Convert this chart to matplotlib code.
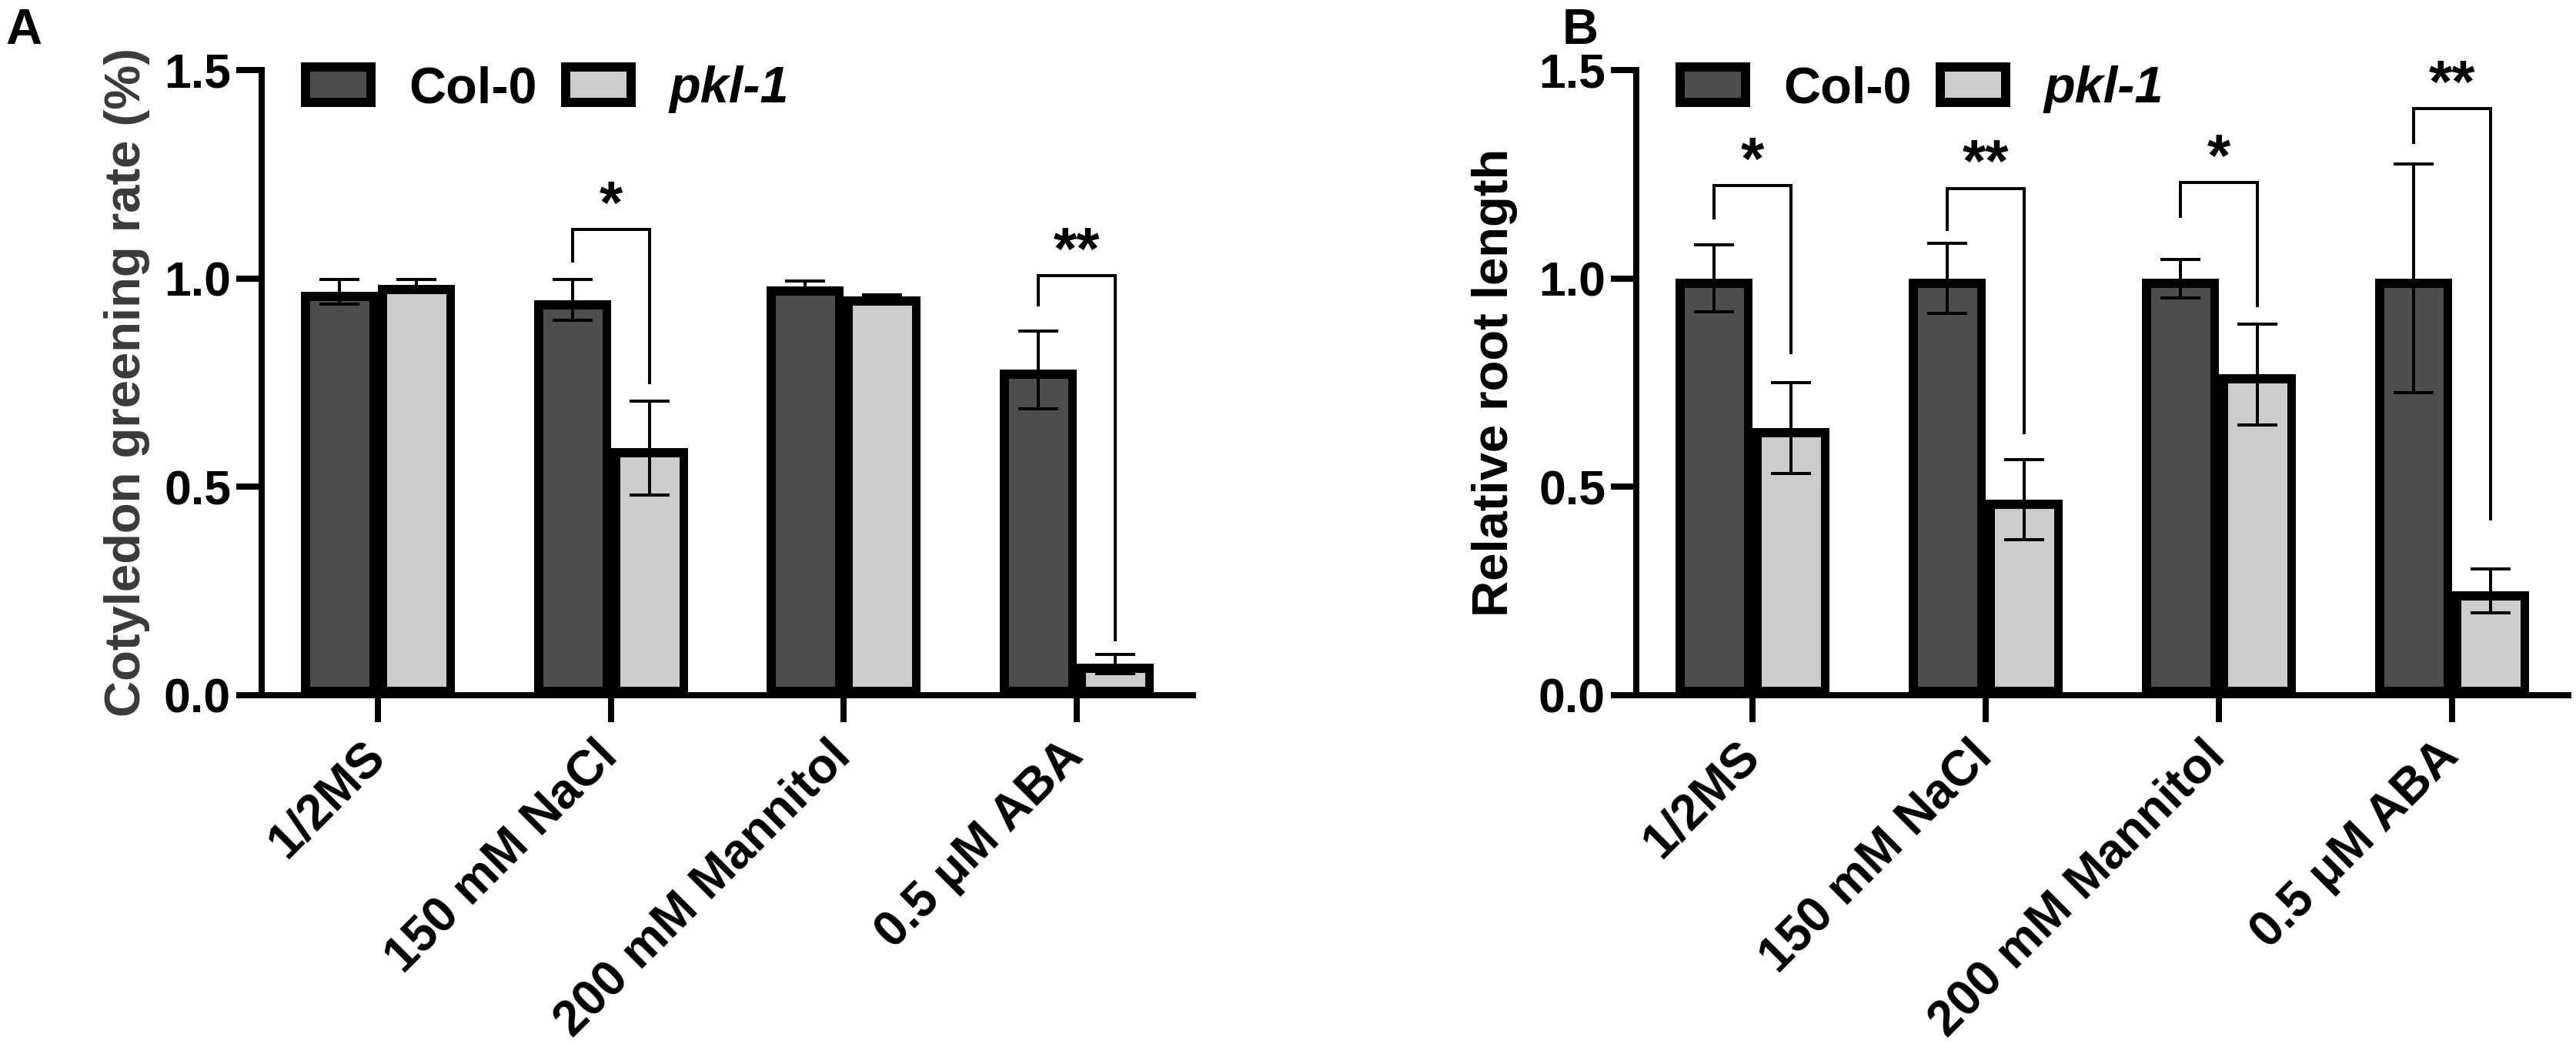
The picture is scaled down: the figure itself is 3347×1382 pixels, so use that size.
import matplotlib
matplotlib.use('Agg')
import matplotlib.pyplot as plt
import numpy as np
from matplotlib.patches import Patch
from matplotlib.transforms import ScaledTranslation

plt.rcParams['font.family'] = ['Liberation Sans', 'DejaVu Sans']
plt.rcParams['font.weight'] = 'bold'

# ---------------- data ----------------
categories = ['1/2MS', '150 mM NaCl', '200 mM Mannitol', '0.5 μM ABA']
series_names = ['Col-0', 'pkl-1']

greening_col0 = [0.968, 0.948, 0.980, 0.781]
greening_col0_err = [0.030, 0.049, 0.014, 0.093]
greening_pkl1 = [0.985, 0.593, 0.956, 0.075]
greening_pkl1_err = [0.013, 0.113, 0.004, 0.023]

root_col0 = [1.0, 1.0, 1.0, 1.0]
root_col0_err = [0.080, 0.084, 0.046, 0.274]
root_pkl1 = [0.641, 0.469, 0.770, 0.250]
root_pkl1_err = [0.109, 0.096, 0.121, 0.053]

# significance brackets: category index, label, top, left-leg bottom, right-leg bottom
sigA_idx = [1, 3]
sigA_text = ['*', '**']
sigA_top = [1.118, 1.006]
sigA_left = [1.039, 0.933]
sigA_right = [0.747, 0.129]

sigB_idx = [0, 1, 2, 3]
sigB_text = ['*', '**', '*', '**']
sigB_top = [1.223, 1.216, 1.230, 1.407]
sigB_left = [1.142, 1.114, 1.145, 1.322]
sigB_right = [0.819, 0.627, 0.931, 0.420]

yticks = [0.0, 0.5, 1.0, 1.5]

# ---------------- style ----------------
W, H = 3348, 1382
DPI = 100
PX = 72.0 / DPI  # points per pixel

col_dark = '#4d4d4d'
col_light = '#cccccc'
bar_w = 0.33
off = 0.165
edge_px = 11.5
spine_px = 8
err_lw = 4 * PX
cap = 26 * PX
br_lw = 4 * PX

fig = plt.figure(figsize=(W / DPI, H / DPI), dpi=DPI)
fig.patch.set_facecolor('white')

axA = fig.add_axes([340 / W, (H - 903) / H, 1210 / W, 812 / H])
axB = fig.add_axes([2126 / W, (H - 903) / H, 1211 / W, 812 / H])


def draw_panel(ax, c0, c0e, p1, p1e, s_idx, s_txt, s_top, s_left, s_right):
    x = np.arange(len(categories))
    b0 = ax.bar(x - off, c0, bar_w, color=col_dark, edgecolor='black',
                linewidth=2 * edge_px * PX, zorder=2)
    b1 = ax.bar(x + off, p1, bar_w, color=col_light, edgecolor='black',
                linewidth=2 * edge_px * PX, zorder=2)
    for b in list(b0) + list(b1):
        b.set_clip_path(b)
    ax.errorbar(x - off, c0, yerr=c0e, fmt='none', ecolor='black',
                elinewidth=err_lw, capsize=cap, capthick=err_lw, zorder=3)
    ax.errorbar(x + off, p1, yerr=p1e, fmt='none', ecolor='black',
                elinewidth=err_lw, capsize=cap, capthick=err_lw, zorder=3)
    for i, t, top, lb, rb in zip(s_idx, s_txt, s_top, s_left, s_right):
        xl, xr = i - off, i + off
        ax.plot([xl, xl, xr, xr], [lb, top, top, rb], color='black', lw=br_lw,
                solid_joinstyle='miter', solid_capstyle='butt', zorder=4)
        ax.annotate(t, xy=(i, top), xytext=(0, 6), textcoords='offset points',
                    ha='center', va='baseline', fontsize=56, fontweight='bold')

    ax.set_xlim(-0.5, 3.5)
    ax.set_ylim(0, 1.5)
    ax.set_yticks(yticks)
    ax.set_yticklabels(['%.1f' % v for v in yticks])
    ax.set_xticks(x)
    ax.set_xticklabels([])
    for s in ['top', 'right']:
        ax.spines[s].set_visible(False)
    for s in ['left', 'bottom']:
        ax.spines[s].set_linewidth(spine_px * PX)
    ax.tick_params(axis='y', length=33 * PX, width=spine_px * PX, pad=5, labelsize=45)
    ax.tick_params(axis='x', length=35 * PX, width=spine_px * PX)
    ax.patch.set_alpha(0)

    tr = ax.get_xaxis_transform() + ScaledTranslation(11 / DPI, -82 / DPI, fig.dpi_scale_trans)
    for i, lab in enumerate(categories):
        ax.text(i, 0, lab, transform=tr, rotation=45, rotation_mode='anchor',
                ha='right', va='baseline', fontsize=46, fontweight='bold')

    handles = [Patch(facecolor=col_dark, edgecolor='black', linewidth=12 * PX),
               Patch(facecolor=col_light, edgecolor='black', linewidth=12 * PX)]
    leg = ax.legend(handles, series_names, ncol=2, loc='center left',
                    bbox_to_anchor=(0.0467, 0.969), frameon=False, fontsize=48,
                    handlelength=1.28, handleheight=0.69, handletextpad=0.74,
                    columnspacing=0.56, borderpad=0, borderaxespad=0)
    leg.get_texts()[1].set_style('italic')


draw_panel(axA, greening_col0, greening_col0_err, greening_pkl1, greening_pkl1_err,
           sigA_idx, sigA_text, sigA_top, sigA_left, sigA_right)
draw_panel(axB, root_col0, root_col0_err, root_pkl1, root_pkl1_err,
           sigB_idx, sigB_text, sigB_top, sigB_left, sigB_right)

fig.text(195 / W, 1 - 497 / H, 'Cotyledon greening rate (%)', rotation=90,
         ha='right', va='center', fontsize=47, fontweight='bold', color='#3a3a3a')
fig.text(1972 / W, 1 - 497 / H, 'Relative root length', rotation=90,
         ha='right', va='center', fontsize=47, fontweight='bold', color='black')

fig.text(7 / W, 1 - 57 / H, 'A', ha='left', va='baseline', fontsize=47, fontweight='bold')
fig.text(2030 / W, 1 - 57 / H, 'B', ha='left', va='baseline', fontsize=47, fontweight='bold')

fig.savefig('out.png', dpi=DPI, facecolor='white')
